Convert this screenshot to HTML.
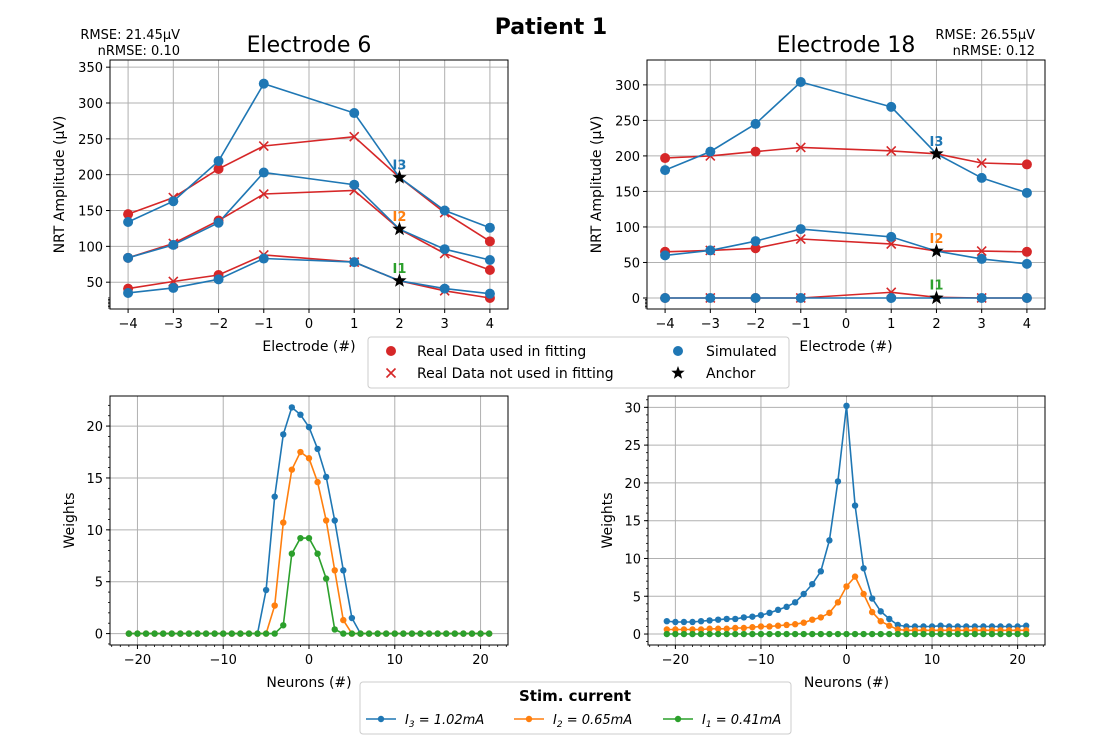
<!DOCTYPE html>
<html><head><meta charset="utf-8">
<style>
html,body{margin:0;padding:0;background:#fff;}
svg{display:block;font-family:"DejaVu Sans","Liberation Sans",sans-serif;}
</style></head>
<body>
<svg id="fig" width="1100" height="750" viewBox="0 0 1100 750" xmlns="http://www.w3.org/2000/svg">
<text x="551" y="34" text-anchor="middle" font-size="22" font-weight="bold">Patient 1</text>
</svg>
<script>
const electrodes = [-4,-3,-2,-1,1,2,3,4];
const usedInFit = [true,false,true,false,false,true,false,true];
const e6Sim = [[35,42,54,83,78,52,41,34],[84,102,133,203,186,124,96,81],[134,163,219,327,286,196,150,126]];
const e6Real = [[41,51,60,88,78,52,38,28],[84,104,136,173,178,124,90,67],[145,168,208,240,253,196,147,107]];
const e18Sim = [[0,0,0,0,0,0,0,0],[60,67,80,97,86,66,55,48],[180,206,245,304,269,203,169,148]];
const e18Real = [[0,0,0,0,8,1,0,0],[65,67,70,83,76,66,66,65],[197,200,206,212,207,203,190,188]];
const neurons = Array.from({length:43},(_, i)=>i-21);
const w6I3 = [0,0,0,0,0,0,0,0,0,0,0,0,0,0,0,0,4.2,13.2,19.2,21.8,21.1,19.9,17.8,15.1,10.9,6.1,1.5,0,0,0,0,0,0,0,0,0,0,0,0,0,0,0,0];
const w6I2 = [0,0,0,0,0,0,0,0,0,0,0,0,0,0,0,0,0,2.7,10.7,15.8,17.5,16.9,14.6,10.9,6.1,1.3,0,0,0,0,0,0,0,0,0,0,0,0,0,0,0,0,0];
const w6I1 = [0,0,0,0,0,0,0,0,0,0,0,0,0,0,0,0,0,0,0.8,7.7,9.2,9.2,7.7,5.3,0.4,0,0,0,0,0,0,0,0,0,0,0,0,0,0,0,0,0,0];
const w18I3 = [1.7,1.6,1.6,1.6,1.7,1.8,1.9,2.0,2.0,2.2,2.3,2.5,2.8,3.2,3.6,4.2,5.3,6.6,8.3,12.4,20.2,30.2,17.0,8.7,4.7,3.0,2.0,1.2,1.0,1.0,1.0,1.0,1.1,1.0,1.0,1.0,1.0,1.0,1.0,1.0,1.0,1.0,1.1];
const w18I2 = [0.6,0.6,0.6,0.6,0.6,0.7,0.7,0.7,0.8,0.8,0.9,1.0,1.0,1.1,1.2,1.3,1.5,1.9,2.2,2.8,4.2,6.3,7.6,5.3,2.9,1.7,1.1,0.6,0.5,0.5,0.5,0.5,0.5,0.5,0.5,0.5,0.5,0.5,0.5,0.5,0.5,0.5,0.5];
const w18I1 = neurons.map(()=>0);
const curLabels = ["I1","I2","I3"];

const NS="http://www.w3.org/2000/svg";
const svg=document.getElementById('fig');
const BLUE="#1f77b4",RED="#d62728",ORANGE="#ff7f0e",GREEN="#2ca02c";
function mk(tag,attrs,parent){const e=document.createElementNS(NS,tag);for(const k in attrs)e.setAttribute(k,attrs[k]);(parent||svg).appendChild(e);return e;}
function txt(x,y,s,attrs,parent){const t=mk('text',Object.assign({x:x,y:y},attrs||{}),parent);t.textContent=s;return t;}

function axes(box,xr,yr,xticks,yticks,name,minorY,minorX){
  const sx=v=>box.x0+(v-xr[0])/(xr[1]-xr[0])*(box.x1-box.x0);
  const sy=v=>box.y1-(v-yr[0])/(yr[1]-yr[0])*(box.y1-box.y0);
  const g=mk('g',{});
  
  
  xticks.forEach(t=>{const x=sx(t);mk('line',{x1:x,x2:x,y1:box.y0,y2:box.y1,stroke:'#b0b0b0','stroke-width':1},g);
    mk('line',{x1:x,x2:x,y1:box.y1,y2:box.y1+4,stroke:'#000'},g);
    const l=txt(x,box.y1+19,String(t).replace('-','−'),{'text-anchor':'middle','font-size':13},g);
    });
  yticks.forEach(t=>{const y=sy(t);mk('line',{x1:box.x0,x2:box.x1,y1:y,y2:y,stroke:'#b0b0b0','stroke-width':1},g);
    mk('line',{x1:box.x0-4,x2:box.x0,y1:y,y2:y,stroke:'#000'},g);
    const l=txt(box.x0-7,y+5,String(t),{'text-anchor':'end','font-size':13},g);
    });
  if(minorY) minorY.forEach(t=>{const y=sy(t);if(y<box.y0||y>box.y1)return;mk('line',{x1:box.x0-2,x2:box.x0,y1:y,y2:y,stroke:'#000','stroke-width':0.8},g);});
  if(minorX) minorX.forEach(t=>{const x=sx(t);mk('line',{x1:x,x2:x,y1:box.y1,y2:box.y1+2,stroke:'#000','stroke-width':0.8},g);});
  mk('rect',{x:box.x0,y:box.y0,width:box.x1-box.x0,height:box.y1-box.y0,fill:'none',stroke:'#000','stroke-width':1},g);
  return {sx,sy,g};
}
function line(ax,xs,ys,color,name){
  const d=xs.map((x,i)=>(i?'L':'M')+ax.sx(x).toFixed(1)+','+ax.sy(ys[i]).toFixed(1)).join('');
  const p=mk('path',{d:d,fill:'none',stroke:color,'stroke-width':1.6});
  
}
function dot(x,y,r,c,name){const e=mk('circle',{cx:x,cy:y,r:r,fill:c});}
function cross(x,y,c){const e=mk('path',{d:`M${x-4.5},${y-4.5}L${x+4.5},${y+4.5}M${x-4.5},${y+4.5}L${x+4.5},${y-4.5}`,stroke:c,'stroke-width':1.6});}
function star(x,y,r){let d='';for(let i=0;i<10;i++){const a=-Math.PI/2+i*Math.PI/5;const rr=i%2?r*0.42:r;d+=(i?'L':'M')+(x+rr*Math.cos(a)).toFixed(1)+','+(y+rr*Math.sin(a)).toFixed(1);}
  const e=mk('path',{d:d+'Z',fill:'#000'});}

function topPanel(box,yr,yticks,sim,real,title,rmse,nrmse,pref,minor,rx){
  const ax=axes(box,[-4.4,4.4],yr,[-4,-3,-2,-1,0,1,2,3,4],yticks,pref+'-axes',minor);
  const cols=[GREEN,ORANGE,BLUE];
  for(let k=0;k<3;k++){
    line(ax,electrodes,real[k],RED,pref+'-real-line-'+curLabels[k]);
    line(ax,electrodes,sim[k],BLUE,pref+'-sim-line-'+curLabels[k]);
    electrodes.forEach((e,i)=>{const x=ax.sx(e);
      if(e===2) return;
      if(usedInFit[i]) dot(x,ax.sy(real[k][i]),5,RED,'real-data-used-marker'); else cross(x,ax.sy(real[k][i]),RED);
      dot(x,ax.sy(sim[k][i]),5,BLUE,'simulated-marker');});
    const i2=electrodes.indexOf(2);
    star(ax.sx(2),ax.sy(sim[k][i2]),7.5);
    const l=txt(ax.sx(2),ax.sy(Math.max(sim[k][i2],real[k][i2]))-8,curLabels[k],{'text-anchor':'middle','font-size':13,'font-weight':'bold',fill:cols[k]});
    
  }
  const t=txt((box.x0+box.x1)/2,52,title,{'text-anchor':'middle','font-size':22});
  const r1=txt(rx,39,'RMSE: '+rmse+'μV',{'text-anchor':'end','font-size':13});
  const r2=txt(rx,55,'nRMSE: '+nrmse,{'text-anchor':'end','font-size':13});
  const xl=txt((box.x0+box.x1)/2,351,'Electrode (#)',{'text-anchor':'middle','font-size':14});
  const yl=txt(0,0,'NRT Amplitude (μV)',{'text-anchor':'middle','font-size':14,transform:`translate(${box.x0-46},${(box.y0+box.y1)/2}) rotate(-90)`});
}
topPanel({x0:110,x1:508,y0:60,y1:309},[12.6,360],[50,100,150,200,250,300,350],e6Sim,e6Real,'Electrode 6','21.45','0.10','e6',[14,16,18,20,22,24,26,28],180);
topPanel({x0:647,x1:1045,y0:60,y1:309},[-15.5,335],[0,50,100,150,200,250,300],e18Sim,e18Real,'Electrode 18','26.55','0.12','e18',[-14,-12,-10,-8,-6,-4,-2],1035);

function botPanel(box,yr,yticks,series,pref,minorStep){
  const mn=[];for(let v=yr[0];v<=yr[1];v+=minorStep)mn.push(Math.round(v/minorStep)*minorStep);
  const mx=[];for(let v=-23;v<=23;v++)mx.push(v);
  const ax=axes(box,[-23.2,23.2],yr,[-20,-10,0,10,20],yticks,pref+'-axes',mn,mx);
  const cols=[BLUE,ORANGE,GREEN];const nm=['I3','I2','I1'];
  series.forEach((s,k)=>{line(ax,neurons,s,cols[k],pref+'-weights-'+nm[k]);
    neurons.forEach((n,i)=>dot(ax.sx(n),ax.sy(s[i]),3.2,cols[k],'weight-point'));});
  const xl=txt((box.x0+box.x1)/2,687,'Neurons (#)',{'text-anchor':'middle','font-size':14});
  const yl=txt(0,0,'Weights',{'text-anchor':'middle','font-size':14,transform:`translate(${box.x0-36},${(box.y0+box.y1)/2}) rotate(-90)`});
}
botPanel({x0:110,x1:508,y0:396,y1:645},[-1.1,22.9],[0,5,10,15,20],[w6I3,w6I2,w6I1],'w6',1);
botPanel({x0:648,x1:1045,y0:396,y1:645},[-1.45,31.5],[0,5,10,15,20,25,30],[w18I3,w18I2,w18I1],'w18',1);

(function(){
  const g=mk('g',{});
  mk('rect',{x:368,y:337,width:421,height:51,rx:3,fill:'#fff',stroke:'#ccc'},g);
  mk('circle',{cx:391,cy:351,r:5,fill:RED},g);
  txt(417,356,'Real Data used in fitting',{'font-size':14},g);
  mk('path',{d:'M386.5,368.5L395.5,377.5M386.5,377.5L395.5,368.5',stroke:RED,'stroke-width':1.6},g);
  txt(417,378,'Real Data not used in fitting',{'font-size':14},g);
  mk('circle',{cx:678,cy:351,r:5,fill:BLUE},g);
  txt(706,356,'Simulated',{'font-size':14},g);
  txt(706,378,'Anchor',{'font-size':14},g);
})();
star(678,373,7);
(function(){
  const g=mk('g',{});
  mk('rect',{x:360,y:682,width:431,height:52,rx:3,fill:'#fff',stroke:'#ccc'},g);
  txt(575,701,'Stim. current',{'text-anchor':'middle','font-size':15,'font-weight':'bold'},g);
  const items=[[366,BLUE,'3','1.02'],[514,ORANGE,'2','0.65'],[663,GREEN,'1','0.41']];
  items.forEach(([x,c,s,v])=>{mk('line',{x1:x,x2:x+30,y1:719,y2:719,stroke:c,'stroke-width':1.6},g);
    mk('circle',{cx:x+15,cy:719,r:3.2,fill:c},g);
    const t=mk('text',{x:x+39,y:724,'font-size':13,'font-style':'italic'},g);
    t.innerHTML=`I<tspan dy="3" font-size="9">${s}</tspan><tspan dy="-3"> = ${v}mA</tspan>`;});
})();
</script>
</body></html>
